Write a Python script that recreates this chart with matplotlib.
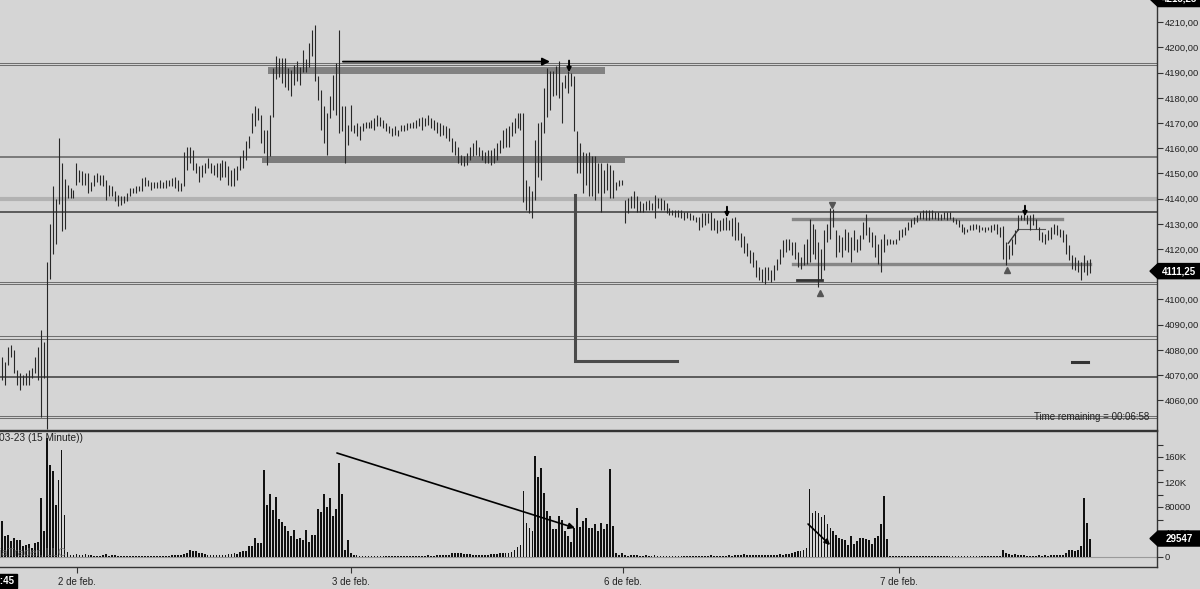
# ES 03-23 (15 Minute) - price bars + volume, levels and drawings
import numpy as np
import matplotlib
matplotlib.use("Agg")
import matplotlib.pyplot as plt
from matplotlib.ticker import FuncFormatter
from matplotlib.patches import Polygon
from matplotlib.transforms import blended_transform_factory

# bar highs / lows, one per 15 minute bar (first one is cut by the left edge)
highs = [
    4077, 4077, 4075, 4081, 4082, 4080, 4072, 4071, 4070, 4071,
    4072, 4073, 4077, 4081, 4088, 4083, 4115, 4130, 4145, 4140,
    4164, 4154, 4148, 4145.5, 4144.2, 4143.5, 4154.1, 4151.5, 4150.8, 4150.1,
    4150.1, 4146.8, 4149.5, 4150.1, 4149.5, 4149.5, 4147.5, 4145.5, 4144.9, 4142.9,
    4141.5, 4140.9, 4140.9, 4142.2, 4144.2, 4144.2, 4144.9, 4144.9, 4148.2, 4148.8,
    4147.5, 4146.8, 4146.8, 4146.8, 4147.5, 4146.8, 4147.5, 4147.5, 4148.2, 4148.8,
    4147.5, 4146.2, 4158.7, 4160.7, 4160.7, 4159.4, 4154.1, 4152.8, 4153.4, 4154.1,
    4156.1, 4154.1, 4153.4, 4154.1, 4154.1, 4155.4, 4154.8, 4152.8, 4151.5, 4152.1,
    4152.8, 4156.8, 4159.4, 4162.7, 4164.7, 4174, 4176.6, 4175.9, 4173.3, 4167.3,
    4167.3, 4173.3, 4191.8, 4196.7, 4196, 4196, 4196, 4191.7, 4190.9, 4193.1,
    4194.5, 4192.4, 4198.9, 4195.3, 4201.7, 4206.8, 4208.9, 4188.5, 4183.2, 4176.6,
    4174, 4180.6, 4189.2, 4193.8, 4206.8, 4176.6, 4176.6, 4169.3, 4177.3, 4169.3,
    4170, 4168.7, 4170, 4170.6, 4170.6, 4171.3, 4172, 4173.3, 4172.6, 4171.3,
    4170, 4168.7, 4168, 4168.7, 4167.3, 4169.3, 4169.3, 4170, 4170, 4170.6,
    4171.3, 4172, 4172.6, 4172, 4173.3, 4172, 4171.3, 4170.6, 4170, 4169.3,
    4168.7, 4168, 4164, 4162.7, 4160.7, 4157.4, 4156.8, 4158.1, 4160.7, 4162.1,
    4163.4, 4160.7, 4159.4, 4158.7, 4159.4, 4159.4, 4160.1, 4162.1, 4163.4, 4167.3,
    4168, 4168.7, 4170.6, 4172, 4174, 4174.2, 4174, 4147.5, 4144.9, 4142.9,
    4163.4, 4170, 4170.6, 4183.9, 4191.8, 4190.5, 4190.5, 4192.5, 4194.5, 4186.5,
    4189.2, 4190.5, 4189.8, 4188.5, 4166.7, 4162.1, 4158.7, 4158.1, 4158.7, 4156.8,
    4156.8, 4154.1, 4154.1, 4151.5, 4154.1, 4153.4, 4151.5, 4146.8, 4147.5, 4147.5,
    4139.6, 4140.2, 4140.9, 4142.9, 4140.9, 4138.9, 4138.2, 4138.9, 4139.6, 4138.2,
    4141.5, 4140.2, 4140.2, 4139.6, 4138.2, 4136.3, 4135.6, 4135.6, 4135.6, 4135.6,
    4134.9, 4134.9, 4134.3, 4133.6, 4132.9, 4132.9, 4134.3, 4134.3, 4134.3, 4134.9,
    4132.3, 4131.6, 4131.6, 4132.3, 4132.9, 4131.6, 4132.3, 4132.9, 4130.9, 4126.3,
    4125, 4122.4, 4119.7, 4118.8, 4115.5, 4112.9, 4112.2, 4112.9, 4112.9, 4111.6,
    4113.5, 4116.2, 4120.2, 4123.5, 4124.1, 4124.1, 4122.8, 4122.8, 4118.8, 4117,
    4122.1, 4124.1, 4132, 4130.1, 4128.1, 4122.8, 4120, 4127.4, 4130.1, 4136.2,
    4136, 4127.4, 4125.4, 4124.8, 4128.1, 4126.8, 4124.8, 4127.4, 4124.1, 4125.4,
    4130.7, 4134, 4128.7, 4126.8, 4125.4, 4122.1, 4124.1, 4126.1, 4124.1, 4124.1,
    4123.5, 4124.1, 4127.4, 4128.1, 4128.7, 4130.7, 4132, 4132.7, 4133.4, 4134.7,
    4135.4, 4135.7, 4135.4, 4135.7, 4134.7, 4134.7, 4134, 4134.7, 4134.7, 4134.7,
    4132.7, 4132, 4131.4, 4130.1, 4128.7, 4128.1, 4129.4, 4130.1, 4130.1, 4129.4,
    4128.7, 4128.7, 4128.7, 4129.4, 4130.1, 4130.1, 4128.7, 4129, 4123, 4121.5,
    4124.1, 4127.4, 4133.4, 4133.4, 4134.7, 4133.4, 4133.4, 4134, 4132, 4128.7,
    4126.8, 4126.1, 4127.4, 4128.7, 4130.1, 4129.4, 4128.1, 4127.4, 4126.1, 4121.5,
    4117.5, 4116.8, 4115.5, 4114.9, 4117.5, 4115.5, 4116.2,
]

lows = [
    4068, 4068, 4066, 4074, 4077, 4071, 4066, 4064, 4066, 4066,
    4066, 4069, 4071, 4068, 4053.5, 4069, 4048.5, 4108, 4118, 4122,
    4138, 4127, 4128, 4140.2, 4140.2, 4140.2, 4145.5, 4146.8, 4145.5, 4145.5,
    4142.2, 4142.9, 4144.9, 4146.8, 4145.5, 4144.9, 4139.6, 4140.9, 4140.9, 4138.9,
    4136.9, 4137.6, 4138.2, 4138.9, 4140.9, 4142.2, 4142.2, 4142.9, 4142.9, 4144.9,
    4144.9, 4143.5, 4144.2, 4144.2, 4144.2, 4144.2, 4144.2, 4144.9, 4144.9, 4144.2,
    4142.9, 4142.9, 4144.9, 4151.5, 4154.1, 4151.5, 4150.1, 4146.8, 4148.8, 4150.1,
    4152.1, 4150.1, 4149.5, 4148.8, 4147.5, 4148.8, 4148.8, 4145.5, 4144.9, 4144.9,
    4147.5, 4151.5, 4152.1, 4155.4, 4160.1, 4166, 4168.7, 4171.3, 4162.1, 4158.1,
    4153.4, 4156.8, 4172.6, 4187.3, 4188.1, 4185.9, 4184.5, 4183, 4180.9, 4185.2,
    4186.6, 4185.2, 4190.2, 4190.2, 4192.4, 4196.7, 4186.6, 4179.2, 4167.3, 4162.1,
    4157.4, 4172, 4175.3, 4173.3, 4166, 4166.7, 4154.1, 4161.4, 4166.7, 4166,
    4164.7, 4163.4, 4166.7, 4168, 4168, 4168, 4167.3, 4168.7, 4168.7, 4168,
    4166.7, 4166, 4164.7, 4165.4, 4164.7, 4166.7, 4166.7, 4167.3, 4168, 4168,
    4168, 4168.7, 4167.3, 4168.7, 4169.3, 4168, 4167.3, 4166, 4164.7, 4165.4,
    4164, 4162.7, 4158.7, 4157.4, 4154.1, 4153.4, 4152.8, 4153.4, 4155.4, 4156.8,
    4157.4, 4156.8, 4155.4, 4154.1, 4154.1, 4153.4, 4154.1, 4155.4, 4158.1, 4160.1,
    4160.7, 4160.7, 4164.7, 4166, 4168, 4167.3, 4138.5, 4135.6, 4134.3, 4132.3,
    4139.6, 4148.8, 4147.5, 4166, 4172.6, 4175.3, 4180.6, 4181.2, 4179.9, 4170,
    4183.9, 4181.9, 4184.6, 4166.7, 4150.1, 4150.1, 4142.2, 4145.5, 4140.9, 4140.9,
    4139.6, 4142.2, 4134.9, 4142.2, 4143.5, 4140.2, 4140.2, 4143.5, 4144.9, 4145.5,
    4130.3, 4134.3, 4136.3, 4136.3, 4134.9, 4134.9, 4134.9, 4135.6, 4135.6, 4135.6,
    4132.3, 4136.3, 4135.6, 4135.6, 4134.3, 4133.6, 4133.6, 4132.9, 4132.9, 4132.3,
    4131.6, 4132.3, 4131.6, 4131.6, 4130.9, 4127.6, 4128.9, 4129.6, 4130.3, 4127.6,
    4127.6, 4126.3, 4127, 4127.6, 4127.6, 4127.6, 4125, 4123.7, 4123.7, 4121,
    4118.4, 4117.1, 4114.4, 4112.9, 4108.9, 4107.6, 4106.9, 4106.3, 4107.6, 4106.9,
    4107.6, 4111.6, 4114.2, 4116.8, 4118.8, 4119.5, 4117.5, 4116.2, 4112.9, 4112.2,
    4113.5, 4114.2, 4114.9, 4118.2, 4116.2, 4104.8, 4108, 4111.6, 4122.8, 4124.1,
    4128.7, 4116.8, 4118.8, 4116.8, 4119.5, 4118.8, 4114.9, 4119.5, 4118.8, 4119.5,
    4124.1, 4125.4, 4122.8, 4120.8, 4116.8, 4114.2, 4110.9, 4118.8, 4121.5, 4122.1,
    4122.1, 4122.1, 4123.5, 4124.8, 4125.4, 4127.4, 4128.7, 4130.1, 4130.7, 4132,
    4132, 4131.7, 4131.4, 4132, 4132, 4131.7, 4131.4, 4132, 4131.7, 4132,
    4130.7, 4130.1, 4128.7, 4126.8, 4126.1, 4126.8, 4127.4, 4127.4, 4128.1, 4126.8,
    4127.4, 4126.8, 4127.4, 4126.8, 4127.4, 4126.1, 4124.8, 4116, 4113.5, 4116.2,
    4117.5, 4122.1, 4127.4, 4131.4, 4131.4, 4130.1, 4127.4, 4129.4, 4128.1, 4123.5,
    4122.8, 4122.1, 4123.5, 4124.1, 4126.1, 4125.4, 4124.8, 4122.8, 4118.2, 4115.5,
    4112.2, 4111.6, 4110.9, 4107.6, 4111, 4109.6, 4110.5,
]

# volume per bar, thousands of contracts
volume_k = [
    33, 58, 34, 36, 25, 30, 27, 28, 18, 20,
    21, 14, 22, 24, 94, 41, 190, 148, 137, 84,
    124, 172, 67, 8, 4, 4, 5, 3, 3, 5,
    3, 3, 2, 2, 2, 3, 5, 2, 3, 3,
    1.5, 1.5, 1, 1.5, 1, 1, 1.5, 1, 1.5, 1,
    1.5, 1, 1.5, 1, 1.5, 2, 2, 2, 2.5, 3,
    3, 4, 5, 6, 11, 10, 10, 6, 6, 5,
    4, 4, 4, 3.5, 3, 3.5, 3, 5, 5, 6,
    5, 8, 9, 10, 17, 17, 30, 23, 22, 140,
    84, 101, 75, 96, 61, 56, 49, 41, 34, 44,
    29, 30, 28, 43, 24, 36, 35, 77, 72, 101,
    80, 95, 65, 77, 151, 101, 12, 27, 6, 4,
    3, 2, 2, 1.5, 2, 1.5, 2, 1.5, 1.5, 1,
    1.5, 1, 1, 1.5, 1, 1, 1.5, 1, 1.5, 1,
    1.5, 2, 1.5, 2, 2.5, 2, 2, 3, 3, 2.5,
    3, 4, 6, 7, 7, 6, 5, 5, 5, 4,
    4, 4, 4, 4, 4, 5, 5, 5, 7, 6,
    6, 7, 8, 12, 16, 20, 105, 55, 46, 41,
    161, 128, 143, 103, 74, 65, 45, 45, 65, 59,
    42, 33, 24, 46, 78, 48, 58, 62, 46, 46,
    53, 42, 55, 45, 53, 141, 50, 6, 4, 7,
    3, 2, 4, 3, 2.5, 2, 2, 3, 2, 1.5,
    4, 2, 2, 1.5, 1.5, 1.5, 1, 1, 1.5, 1,
    1, 1.5, 1, 1, 1.5, 2, 2, 1.5, 2, 2.5,
    2, 2, 2, 1.5, 2, 3, 2, 4, 3, 3,
    5, 3, 3, 4, 4, 3, 3, 4, 3, 3,
    4, 3, 5, 4, 5, 5, 6, 8, 9, 10,
    11, 14, 109, 70, 74, 71, 64, 68, 53, 46,
    41, 35, 30, 29, 27, 19, 33, 21, 26, 31,
    31, 29, 27, 21, 31, 33, 53, 97, 29, 2,
    1.5, 1.5, 1, 1.5, 1, 2, 1.5, 1, 1.5, 1,
    1, 1.5, 1, 1.5, 1, 1, 1.5, 1, 1, 1.5,
    1, 1, 1.5, 1, 1.5, 1, 1, 1.5, 1, 1,
    1.5, 1, 1.5, 1, 1, 1.5, 2, 12, 7, 5,
    4, 5, 4, 4, 3, 2, 2, 2, 2, 2.5,
    2, 4, 2, 3, 4, 3, 3, 4, 7, 12,
    12, 10, 12, 17, 95, 55, 29.547,
]

date_labels = ["2 de feb.", "3 de feb.", "6 de feb.", "7 de feb."]
date_bars = [26.2, 118.0, 209.4, 302.0]

# horizontal levels drawn across the whole chart
double_levels = [4193.4, 4106.6, 4085.0, 4053.3]
grey_level = 4156.5
light_level = 4139.9
dark_levels = [4134.7, 4069.3]

last_price = 4111.25
last_volume = 29547
top_price = 4215.25

BG = "#d5d5d5"
DARK = "#272727"
W, H = 1200, 589


def price_fmt(v, pos):
    return f"{v:.2f}".replace(".", ",")


def volume_fmt(v, pos):
    if v >= 100000:
        return f"{v / 1000:.0f}K"
    return f"{v:.0f}"


def value_tag(ax, y, text, half):
    """Black arrow-shaped value tag sitting on the right axis."""
    tr = blended_transform_factory(ax.transAxes, ax.transData)
    x0, x1, x2 = 1150 / 1157, 1158 / 1157, 1200 / 1157
    poly = Polygon([(x0, y), (x1, y + half), (x2, y + half), (x2, y - half), (x1, y - half)],
                   closed=True, transform=tr, fc="black", ec="black",
                   clip_on=False, zorder=20)
    ax.add_patch(poly)
    ax.text(1179 / 1157, y, text, transform=tr, color="white", fontsize=7,
            fontweight="bold", ha="center", va="center", clip_on=False, zorder=21)


def draw_price(fig):
    ax = fig.add_axes([0, 1 - 430 / H, 1157 / W, 430 / H])
    ax.set_facecolor(BG)
    x = np.arange(len(highs))

    # levels
    for lv in double_levels:
        for off in (-0.5, 0.5):
            ax.axhline(lv + off, color="#6f6f6f", lw=0.75, zorder=1)
    ax.axhline(grey_level, color="#7a7a7a", lw=1.4, zorder=1)
    ax.axhline(light_level, color="#b2b2b2", lw=3.0, zorder=1)
    for lv in dark_levels:
        ax.axhline(lv, color="#3a3a3a", lw=1.1, zorder=1)

    # zones
    ax.fill_between([90.3, 203.3], 4189.6, 4192.4, color="#828282", lw=0, zorder=1.5)
    ax.fill_between([88.2, 210.0], 4154.1, 4156.4, color="#7c7c7c", lw=0, zorder=1.5)

    # box around the last range
    ax.plot([266.4, 356.7], [4131.8, 4131.8], color="#868686", lw=2.4, zorder=1.5)
    ax.plot([266.4, 366.1], [4114.1, 4114.1], color="#868686", lw=2.4, zorder=1.5)
    ax.plot([267.7, 276.1], [4107.8, 4107.8], color="#333333", lw=2.0, zorder=2)
    ax.plot([341.5, 351.0], [4127.9, 4127.9], color="#555555", lw=0.8, zorder=2)
    ax.plot([338.7, 342.0], [4122.3, 4127.6], color="#333333", lw=1.0, zorder=4)

    # the L-shaped drawing and the small dash
    ax.plot([193.3, 193.3, 227.5], [4141.5, 4075.6, 4075.6], color="#4a4a4a",
            lw=2.2, zorder=2, solid_joinstyle="miter")
    ax.plot([360.0, 365.4], [4075.2, 4075.2], color="#333333", lw=2.2, zorder=2)

    # price bars
    ax.vlines(x, lows, highs, color=DARK, lw=0.8, zorder=3)

    # arrows and markers
    ax.annotate("", xy=(184.9, 4194.4), xytext=(115.4, 4194.4),
                arrowprops=dict(arrowstyle="-|>", color="black", lw=1.3,
                                mutation_scale=11, shrinkA=0, shrinkB=0), zorder=5)
    for xa, ya, yb in [(191.3, 4194.8, 4190.2), (244.3, 4136.8, 4132.6),
                       (344.3, 4137.2, 4133.0)]:
        ax.annotate("", xy=(xa, yb), xytext=(xa, ya),
                    arrowprops=dict(arrowstyle="-|>", color="black", lw=1.4,
                                    mutation_scale=6, shrinkA=0, shrinkB=0), zorder=5)
    ax.plot([279.5], [4137.6], marker="v", ms=5, color="#555555", ls="none", zorder=5)
    ax.plot([275.5, 338.2], [4102.6, 4111.8], marker="^", ms=5, color="#555555",
            ls="none", zorder=5)

    ax.text(1149 / 1157, 4053.4, "Time remaining = 00:06:58",
            transform=blended_transform_factory(ax.transAxes, ax.transData),
            ha="right", va="center", fontsize=7, color="#222222", zorder=6)

    ax.set_xlim(0.336, 388.6)
    ax.set_ylim(4048.2, 4218.85)
    ax.set_xticks([])
    ax.yaxis.tick_right()
    ax.set_yticks(np.arange(4060, 4211, 10))
    ax.yaxis.set_major_formatter(FuncFormatter(price_fmt))
    ax.tick_params(axis="y", direction="out", length=4, width=0.8, color="#333333",
                   labelsize=6.8, labelcolor="#222222", pad=1.5)
    for s in ("left", "top"):
        ax.spines[s].set_visible(False)
    for s in ("right", "bottom"):
        ax.spines[s].set_color("#333333")
        ax.spines[s].set_linewidth(1.0)

    value_tag(ax, last_price, "4111,25", 3.0)
    value_tag(ax, top_price + 4.0, "4215,25", 3.0)
    return ax


def draw_volume(fig):
    ax = fig.add_axes([0, 1 - 567 / H, 1157 / W, 136 / H])
    ax.set_facecolor(BG)
    x = np.arange(len(volume_k))
    vol = np.array(volume_k) * 1000

    ax.axhline(0, color="#9a9a9a", lw=0.8, zorder=1)
    ax.bar(x, vol, width=0.6, color="#111111", lw=0, zorder=3)

    ax.annotate("", xy=(193.3, 46400), xytext=(113.4, 166400),
                arrowprops=dict(arrowstyle="-|>", color="black", lw=1.2,
                                mutation_scale=9, shrinkA=0, shrinkB=0), zorder=5)
    ax.annotate("", xy=(278.9, 19200), xytext=(271.5, 52800),
                arrowprops=dict(arrowstyle="-|>", color="black", lw=1.2,
                                mutation_scale=8, shrinkA=0, shrinkB=0), zorder=5)

    ax.text(-0.001, 0.949, "03-23 (15 Minute))", transform=ax.transAxes,
            ha="left", va="center", fontsize=7.3, color="#222222", zorder=6)
    ax.text(66 / 1157, 0.10, "NinjaTrader, LLC", transform=ax.transAxes,
            ha="right", va="center", fontsize=8, color="#6a6a6a", alpha=0.8, zorder=6)

    ax.set_xlim(0.336, 388.6)
    ax.set_ylim(-16000, 201600)
    ax.yaxis.tick_right()
    ax.set_yticks([0, 40000, 80000, 120000, 160000])
    ax.set_yticks([20000, 60000, 100000, 140000, 180000], minor=True)
    ax.yaxis.set_major_formatter(FuncFormatter(volume_fmt))
    ax.tick_params(axis="y", which="both", direction="out", length=4, width=0.8,
                   color="#333333", labelsize=6.8, labelcolor="#222222", pad=1.5)
    ax.set_xticks(date_bars)
    ax.set_xticklabels(date_labels)
    ax.tick_params(axis="x", direction="out", length=4, width=0.8, color="#333333",
                   labelsize=7, labelcolor="#222222", pad=3)
    ax.spines["left"].set_visible(False)
    for s in ("right", "bottom", "top"):
        ax.spines[s].set_color("#333333")
        ax.spines[s].set_linewidth(1.0)

    value_tag(ax, last_volume, "29547", 12000)
    return ax


if __name__ == "__main__":
    assert len(highs) == len(lows) == len(volume_k)
    plt.rcParams["font.family"] = ["Liberation Sans", "DejaVu Sans"]
    fig = plt.figure(figsize=(W / 100, H / 100), dpi=100, facecolor=BG)
    draw_price(fig)
    draw_volume(fig)
    fig.text(15 / W, 1 - 581 / H, "21:45", ha="right", va="center", fontsize=7,
             color="white", fontweight="bold",
             bbox=dict(boxstyle="square,pad=0.25", fc="black", ec="black"))
    fig.savefig("out.png", dpi=100, facecolor=BG)
